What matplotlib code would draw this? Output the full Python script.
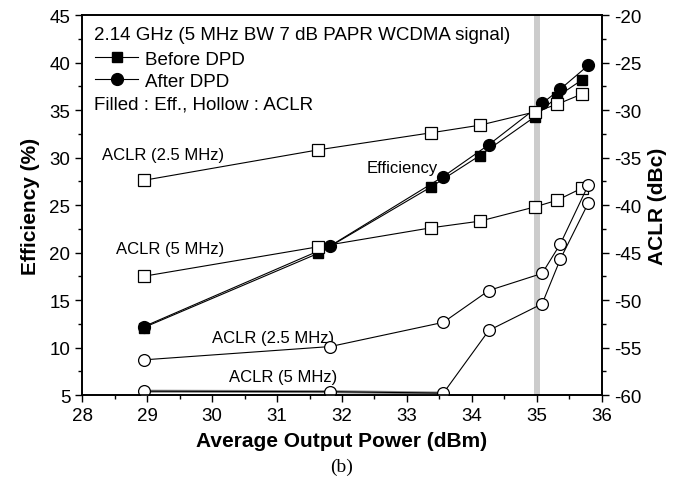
import matplotlib
matplotlib.use("Agg")
import matplotlib.pyplot as plt
from matplotlib.lines import Line2D
from matplotlib.ticker import MultipleLocator

plt.rcParams['font.family'] = ['Liberation Sans', 'DejaVu Sans']
plt.rcParams['axes.unicode_minus'] = False

# before DPD
x_before = [28.95, 31.63, 33.37, 34.12, 34.97, 35.31, 35.70]
eff_before = [12.1, 19.9, 26.9, 30.2, 34.3, 36.4, 38.2]
aclr25_before = [-37.4, -34.2, -32.4, -31.6, -30.2, -29.4, -28.3]
aclr5_before = [-47.5, -44.4, -42.4, -41.7, -40.2, -39.5, -38.2]

# after DPD
x_after = [28.95, 31.82, 33.56, 34.26, 35.08, 35.36, 35.79]
eff_after = [12.2, 20.7, 28.0, 31.35, 35.7, 37.2, 39.7]
aclr25_after = [-56.3, -54.9, -52.35, -49.0, -47.2, -44.1, -37.9]
aclr5_after = [-59.6, -59.65, -59.8, -53.2, -50.4, -45.7, -39.8]

fig = plt.figure(figsize=(6.84, 4.85), dpi=100)
ax = fig.add_axes([0.12, 0.1835, 0.76, 0.7835])
ax2 = ax.twinx()

ax.axvspan(34.95, 35.05, color='#cccccc', lw=0, zorder=0)

lw = 0.8
ax.plot(x_before, eff_before, color='k', lw=lw, marker='s', ms=7, mfc='k', mec='k', zorder=3)
ax.plot(x_after, eff_after, color='k', lw=lw, marker='o', ms=8.5, mfc='k', mec='k', zorder=4)

ax2.plot(x_before, aclr25_before, color='k', lw=lw, marker='s', ms=8, mfc='white', mec='k', mew=0.9)
ax2.plot(x_before, aclr5_before, color='k', lw=lw, marker='s', ms=8, mfc='white', mec='k', mew=0.9)
ax2.plot(x_after, aclr25_after, color='k', lw=lw, marker='o', ms=8.5, mfc='white', mec='k', mew=0.9)
ax2.plot(x_after[:3], aclr5_after[:3], color='0.55', lw=2.2, zorder=1)
ax2.plot(x_after, aclr5_after, color='k', lw=lw, marker='o', ms=8.5, mfc='white', mec='k', mew=0.9)

ax.set_xlim(28, 36)
ax.set_ylim(5, 45)
ax2.set_ylim(-60, -20)

ax.xaxis.set_major_locator(MultipleLocator(1))
ax.xaxis.set_minor_locator(MultipleLocator(0.5))
ax.yaxis.set_major_locator(MultipleLocator(5))
ax.yaxis.set_minor_locator(MultipleLocator(2.5))
ax2.yaxis.set_major_locator(MultipleLocator(5))
ax2.yaxis.set_minor_locator(MultipleLocator(2.5))

for a in (ax, ax2):
    a.tick_params(which='major', direction='out', length=5, width=1, labelsize=13.5)
    a.tick_params(which='minor', direction='out', length=3, width=1)
    for s in a.spines.values():
        s.set_linewidth(1.2)

ax.set_xlabel('Average Output Power (dBm)', fontsize=15, fontweight='bold', labelpad=5)
ax.set_ylabel('Efficiency (%)', fontsize=15, fontweight='bold', labelpad=7)
ax2.set_ylabel('ACLR (dBc)', fontsize=15, fontweight='bold', labelpad=5)

# header and legend
ax.text(0.023, 0.95, '2.14 GHz (5 MHz BW 7 dB PAPR WCDMA signal)', transform=ax.transAxes,
        fontsize=13.5, va='center', ha='left')
handles = [Line2D([], [], color='k', lw=lw, marker='s', ms=7),
           Line2D([], [], color='k', lw=lw, marker='o', ms=8.5)]
ax.legend(handles, ['Before DPD', 'After DPD'], loc='upper left', bbox_to_anchor=(0.0, 0.94),
          frameon=False, fontsize=13.5, handlelength=2.3, handletextpad=0.35,
          labelspacing=0.25, borderpad=0.2)
ax.text(0.023, 0.765, 'Filled : Eff., Hollow : ACLR', transform=ax.transAxes,
        fontsize=13.5, va='center', ha='left')

# series labels
ax.text(29.25, 30.3, 'ACLR (2.5 MHz)', fontsize=12, ha='center', va='center')
ax.text(29.35, 20.4, 'ACLR (5 MHz)', fontsize=12, ha='center', va='center')
ax.text(30.94, 11.1, 'ACLR (2.5 MHz)', fontsize=12, ha='center', va='center')
ax.text(31.1, 7.0, 'ACLR (5 MHz)', fontsize=12, ha='center', va='center')
ax.text(32.92, 28.9, 'Efficiency', fontsize=12, ha='center', va='center')

fig.text(0.5, 0.036, '(b)', fontsize=14, ha='center', va='center', family='Liberation Serif')

fig.savefig('out.png', dpi=100)
